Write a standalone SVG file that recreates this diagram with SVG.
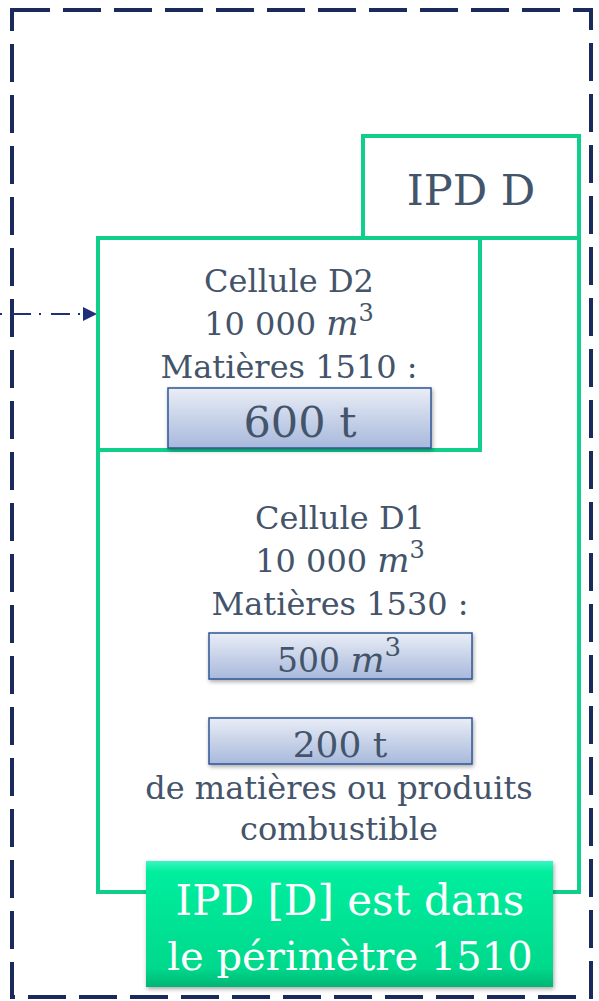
<svg xmlns="http://www.w3.org/2000/svg" width="599" height="1001" viewBox="0 0 599 1001">
<style>
.t{font-family:"DejaVu Serif","Liberation Serif",serif;fill:#44546A;text-anchor:middle}
.g{fill:none;stroke:#0FCF8A;stroke-width:4}
.q{stroke:#2F5597;stroke-width:1.5}
.w{font-family:"DejaVu Serif","Liberation Serif",serif;fill:#FFFFFF;text-anchor:middle}
.m{font-family:"DejaVu Serif","Liberation Serif",serif;font-style:italic}
</style>
<defs>
<linearGradient id="blue" x1="0" y1="0" x2="0" y2="1">
<stop offset="0" stop-color="#E9EDF6"/>
<stop offset="1" stop-color="#A8B9DC"/>
</linearGradient>
<linearGradient id="green" x1="0" y1="0" x2="0" y2="1">
<stop offset="0" stop-color="#3AF5C4"/>
<stop offset="0.08" stop-color="#05EE9E"/>
<stop offset="0.85" stop-color="#00D98C"/>
<stop offset="1" stop-color="#00B575"/>
</linearGradient>
<filter id="sh" x="-10%" y="-10%" width="130%" height="140%">
<feDropShadow dx="1" dy="2" stdDeviation="2" flood-color="#000" flood-opacity="0.35"/>
</filter>
<marker id="arr" viewBox="0 0 14 14" refX="0" refY="7" markerWidth="14" markerHeight="14" orient="auto" markerUnits="userSpaceOnUse">
<path d="M0,0 L14,7 L0,14 z" fill="#1F2F78"/>
</marker>
</defs>
<rect id="perimeter" x="12" y="10" width="579" height="987" fill="none" stroke="#1B2A5C" stroke-width="4" stroke-dasharray="38 13"/>
<g id="connectors">
<path d="M0,314 L83,314" fill="none" stroke="#1F2F78" stroke-width="2" stroke-dasharray="2 10 19 8" marker-end="url(#arr)"/>
</g>
<g id="ipd-d">
<rect class="g" x="363" y="136" width="216" height="102"/>
<text class="t" x="471" y="205" font-size="43">IPD D</text>
</g>
<g id="cellule-d1">
<rect class="g" x="98" y="238" width="481" height="654"/>
<text class="t" x="340" y="529" font-size="32">Cellule D1</text>
<text class="t" x="340" y="572" font-size="32">10 000 <tspan class="m" font-size="34">m</tspan><tspan font-size="24" dy="-14">3</tspan></text>
<text class="t" x="340" y="615" font-size="32">Matières 1530 :</text>
</g>
<g id="cellule-d2">
<rect class="g" x="98" y="238" width="382" height="212"/>
<text class="t" x="289" y="292" font-size="32">Cellule D2</text>
<text class="t" x="289" y="335" font-size="32">10 000 <tspan class="m" font-size="34">m</tspan><tspan font-size="24" dy="-14">3</tspan></text>
<text class="t" x="289" y="378" font-size="32">Matières 1510 :</text>
</g>
<g id="qty-600">
<rect class="q" x="168" y="388" width="263" height="60" fill="url(#blue)" filter="url(#sh)"/>
<text class="t" x="300" y="437" font-size="43">600 t</text>
</g>
<g id="qty-500">
<rect class="q" x="209" y="633" width="263" height="46" fill="url(#blue)" filter="url(#sh)"/>
<text class="t" x="339" y="672" font-size="33">500 <tspan class="m" font-size="36">m</tspan><tspan font-size="26" dy="-16">3</tspan></text>
</g>
<g id="qty-200">
<rect class="q" x="209" y="718" width="263" height="46" fill="url(#blue)" filter="url(#sh)"/>
<text class="t" x="340" y="757" font-size="36">200 t</text>
<text class="t" x="339" y="799" font-size="32">de matières ou produits</text>
<text class="t" x="339" y="840" font-size="32">combustible</text>
</g>
<g id="conclusion">
<rect x="146" y="861" width="407" height="126" fill="url(#green)" filter="url(#sh)"/>
<text class="w" x="350" y="915" font-size="42">IPD [D] est dans</text>
<text class="w" x="350" y="970" font-size="40">le périmètre 1510</text>
</g>
</svg>
